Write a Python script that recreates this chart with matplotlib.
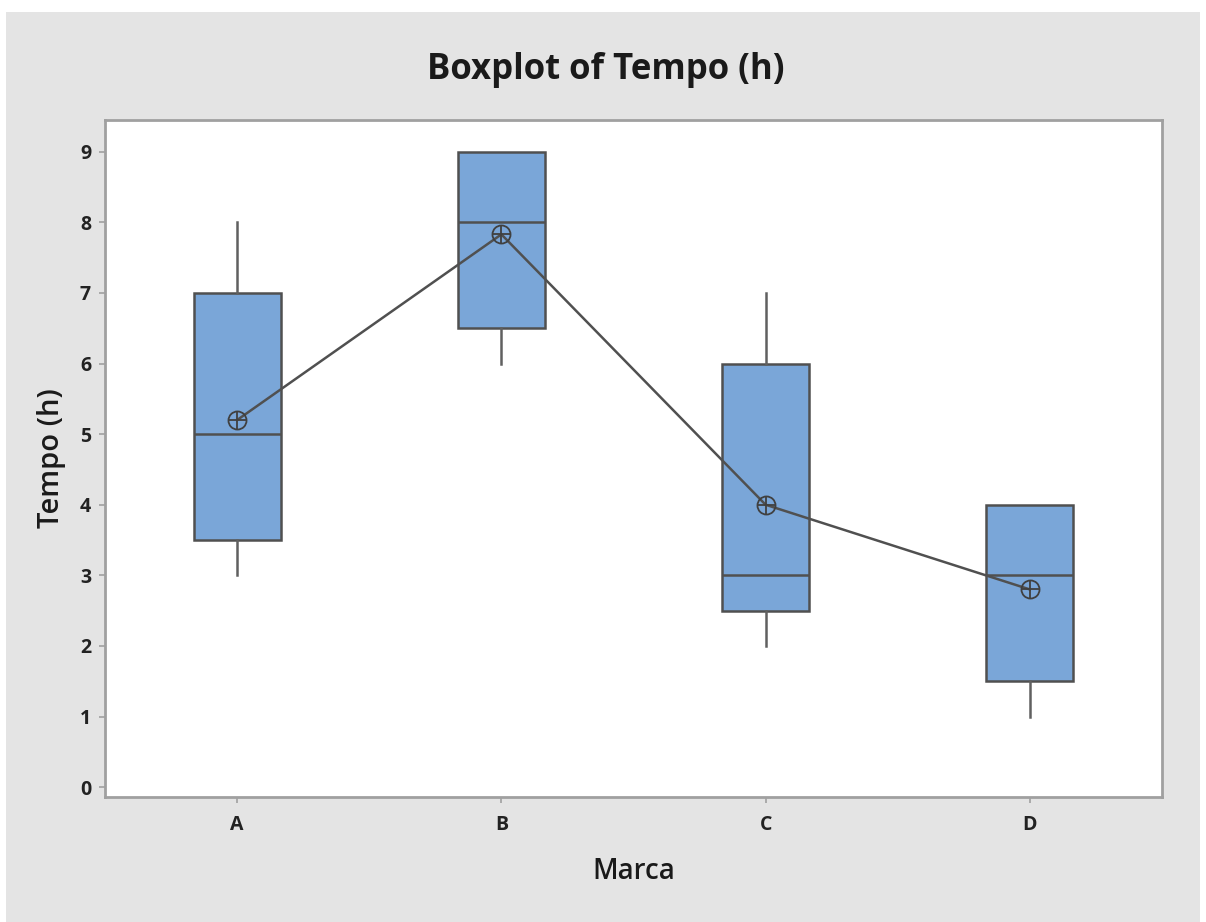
import matplotlib
matplotlib.use("Agg")
import matplotlib.pyplot as plt
from matplotlib.patches import Rectangle

categories = ["A", "B", "C", "D"]
whislo = [3, 6, 2, 1]
q1 = [3.5, 6.5, 2.5, 1.5]
med = [5, 8, 3, 3]
q3 = [7, 9, 6, 4]
whishi = [8, 9, 7, 4]
means = [5.2, 7.83, 4.0, 2.8]
yticks = [0, 1, 2, 3, 4, 5, 6, 7, 8, 9]

plt.rcParams['font.family'] = ['Open Sans', 'DejaVu Sans']

fig = plt.figure(figsize=(12.06, 9.22), dpi=100)
fig.patch.set_facecolor('white')
fig.patches.append(Rectangle((6/1206, 0), 1194/1206, 1 - 12/922, transform=fig.transFigure,
                             facecolor='#e4e4e4', edgecolor='none', zorder=-10))

ax = fig.add_axes([105/1206, 1 - 797/922, (1162 - 105)/1206, (797 - 120)/922])
ax.set_facecolor('white')

stats = []
for i, c in enumerate(categories):
    stats.append(dict(label=c, whislo=whislo[i], q1=q1[i], med=med[i], q3=q3[i],
                      whishi=whishi[i], fliers=[]))
positions = list(range(1, len(categories) + 1))
edge = '#505050'
ax.bxp(stats, positions=positions, widths=0.33, patch_artist=True, showcaps=False,
       boxprops=dict(facecolor='#7aa6d8', edgecolor=edge, linewidth=1.8),
       medianprops=dict(color=edge, linewidth=1.8),
       whiskerprops=dict(color='#606060', linewidth=1.8))

ax.plot(positions, means, color='#505050', linewidth=1.8, zorder=5)
ax.plot(positions, means, linestyle='none', marker='o', markersize=13, markerfacecolor='none',
        markeredgecolor='#404040', markeredgewidth=1.3, zorder=6)
ax.plot(positions, means, linestyle='none', marker='+', markersize=13,
        markeredgecolor='#404040', markeredgewidth=1.3, zorder=6)

ax.set_xlim(0.5, 4.5)
ax.set_ylim(-0.14, 9.45)
ax.set_yticks(yticks)
ax.set_xticks(positions)
ax.set_xticklabels(categories)
for s in ax.spines.values():
    s.set_color('#a0a0a0')
    s.set_linewidth(2)
ax.tick_params(axis='both', colors='#a0a0a0', length=4, width=1.2, labelcolor='#222222',
               labelsize=14)
ax.tick_params(axis='x', pad=9)
ax.tick_params(axis='y', pad=6)
for lab in ax.get_xticklabels() + ax.get_yticklabels():
    lab.set_fontweight('bold')

fig.text(606/1206, 1 - 70/922, "Boxplot of Tempo (h)", ha='center', va='center',
         fontsize=25, fontweight='bold', color='#1a1a1a')
ax.set_xlabel("Marca", fontsize=20, fontweight='semibold', color='#1a1a1a', labelpad=16)
ax.set_ylabel("Tempo (h)", fontsize=21, fontweight='semibold', color='#1a1a1a', labelpad=10)

fig.savefig("out.png", dpi=100, facecolor=fig.get_facecolor())
